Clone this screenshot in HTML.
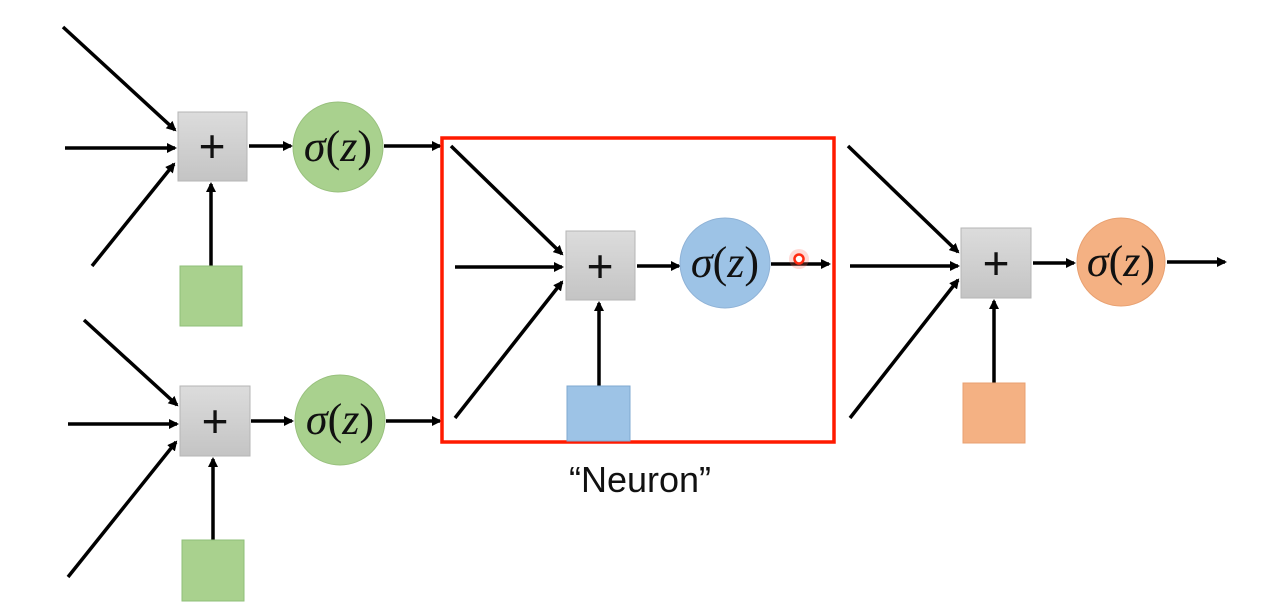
<!DOCTYPE html>
<html><head><meta charset="utf-8"><style>html,body{margin:0;padding:0;background:#fff}svg{display:block}</style></head>
<body>
<svg width="1273" height="606" viewBox="0 0 1273 606" xmlns="http://www.w3.org/2000/svg">
<defs>
<marker id="a" markerWidth="10" markerHeight="10" refX="8" refY="5" orient="auto" markerUnits="userSpaceOnUse" viewBox="0 0 10 10">
<path d="M0,0 L10,5 L0,10 Z" fill="#000"/></marker>
<linearGradient id="g" x1="0" y1="0" x2="0" y2="1"><stop offset="0" stop-color="#dcdcdc"/><stop offset="1" stop-color="#c4c4c4"/></linearGradient>
</defs>
<g stroke="#000" stroke-width="3.5" fill="none" marker-end="url(#a)">
<!-- top-left -->
<line x1="63" y1="27" x2="175" y2="130"/>
<line x1="65" y1="148" x2="175" y2="148"/>
<line x1="92" y1="266" x2="174" y2="164"/>
<line x1="211" y1="266" x2="211" y2="184"/>
<line x1="249" y1="146" x2="291" y2="146"/>
<line x1="384" y1="146" x2="440" y2="146"/>
<!-- bottom-left -->
<line x1="84" y1="320" x2="177" y2="405"/>
<line x1="68" y1="424" x2="177" y2="424"/>
<line x1="68" y1="577" x2="176" y2="442"/>
<line x1="213" y1="540" x2="213" y2="459"/>
<line x1="251" y1="421" x2="292" y2="421"/>
<line x1="386" y1="421" x2="440" y2="421"/>
<!-- middle -->
<line x1="451" y1="146" x2="562" y2="254"/>
<line x1="455" y1="267" x2="562" y2="267"/>
<line x1="455" y1="418" x2="562" y2="282"/>
<line x1="599" y1="386" x2="599" y2="303"/>
<line x1="637" y1="266" x2="679" y2="266"/>
<line x1="771" y1="264" x2="829" y2="264"/>
<!-- right -->
<line x1="848" y1="146" x2="958" y2="252"/>
<line x1="850" y1="266" x2="958" y2="266"/>
<line x1="850" y1="418" x2="958" y2="280"/>
<line x1="994" y1="383" x2="994" y2="301"/>
<line x1="1033" y1="263" x2="1074" y2="263"/>
<line x1="1167" y1="262" x2="1225" y2="262"/>
</g>
<!-- red box -->
<rect x="442" y="138" width="392" height="304" fill="none" stroke="#ff1a00" stroke-width="3.5"/>
<!-- plus boxes -->
<g fill="url(#g)" stroke="#b5b5b5" stroke-width="1">
<rect x="178" y="112" width="69" height="69"/>
<rect x="180" y="386" width="70" height="70"/>
<rect x="566" y="231" width="69" height="69"/>
<rect x="961" y="228" width="70" height="70"/>
</g>
<g font-family="Liberation Sans, sans-serif" font-size="46" text-anchor="middle" fill="#111">
<text x="212" y="162">+</text>
<text x="215" y="437">+</text>
<text x="600" y="282">+</text>
<text x="996" y="279">+</text>
</g>
<!-- circles -->
<circle cx="338" cy="147" r="45" fill="#a9d18e" stroke="#98c07d"/>
<circle cx="340" cy="420" r="45" fill="#a9d18e" stroke="#98c07d"/>
<circle cx="725" cy="263" r="45" fill="#9dc3e6" stroke="#8fb2d6"/>
<circle cx="1121" cy="262" r="44" fill="#f4b183" stroke="#e8a070"/>
<g font-family="Liberation Serif, serif" font-size="44" text-anchor="middle" fill="#111">
<text x="338" y="161"><tspan font-style="italic">σ</tspan>(<tspan font-style="italic">z</tspan>)</text>
<text x="340" y="434"><tspan font-style="italic">σ</tspan>(<tspan font-style="italic">z</tspan>)</text>
<text x="725" y="277"><tspan font-style="italic">σ</tspan>(<tspan font-style="italic">z</tspan>)</text>
<text x="1121" y="276"><tspan font-style="italic">σ</tspan>(<tspan font-style="italic">z</tspan>)</text>
</g>
<!-- bias squares -->
<rect x="180" y="266" width="62" height="60" fill="#a9d18e" stroke="#8fbf78"/>
<rect x="182" y="540" width="62" height="61" fill="#a9d18e" stroke="#8fbf78"/>
<rect x="567" y="386" width="63" height="55" fill="#9dc3e6" stroke="#7fa8d0"/>
<rect x="963" y="383" width="62" height="60" fill="#f4b183" stroke="#e8a070"/>
<!-- red pointer dot -->
<circle cx="799" cy="259" r="10" fill="#ff6b5a" opacity="0.25"/>
<circle cx="799" cy="259" r="4.5" fill="#fff" stroke="#ff2a10" stroke-width="2.5"/>
<text x="640" y="492" font-family="Liberation Sans, sans-serif" font-size="36" text-anchor="middle" fill="#111">“Neuron”</text>
</svg>
</body></html>
